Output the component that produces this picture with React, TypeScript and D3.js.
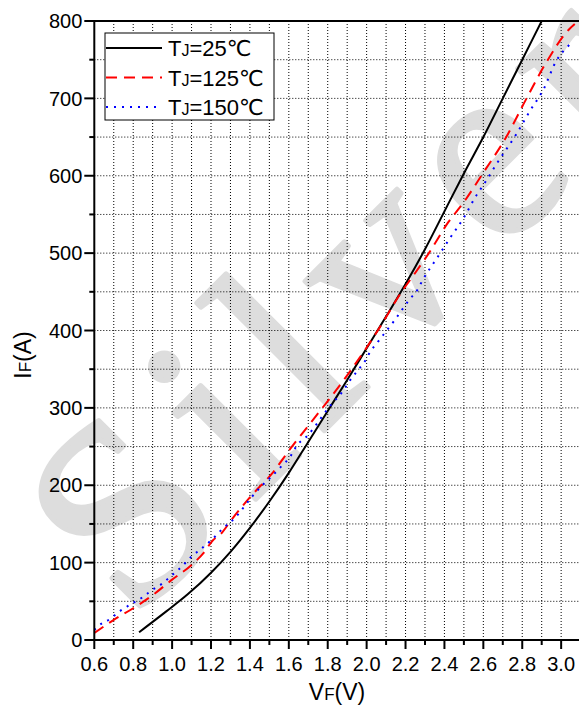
import React from "react";
import * as d3 from "d3";

const seriesNames = ["25", "125", "150"];
const colors = ["#000000", "#ff0000", "#0000ff"];

const tj25: [number, number][] = [
  [0.83, 10], [0.97, 37], [1.08, 59], [1.2, 87], [1.3, 114], [1.4, 145], [1.5, 179],
  [1.6, 216], [1.7, 256], [1.8, 296], [1.9, 336], [2.0, 377], [2.1, 418], [2.2, 460],
  [2.3, 505], [2.4, 554], [2.5, 603], [2.6, 650], [2.7, 700], [2.8, 750], [2.9, 800],
];

const tj125: [number, number][] = [
  [0.6, 9], [0.7, 26], [0.8, 41], [0.9, 58], [1.0, 78], [1.1, 97], [1.16, 112], [1.21, 129],
  [1.25, 137], [1.31, 157], [1.42, 190], [1.51, 214], [1.61, 248], [1.71, 280], [1.81, 312],
  [1.9, 342], [2.0, 378], [2.07, 405], [2.18, 450], [2.24, 471], [2.32, 500], [2.42, 540],
  [2.5, 566], [2.6, 604], [2.72, 651], [2.82, 699], [2.92, 745], [3.04, 789], [3.07, 796],
];

const tj150: [number, number][] = [
  [0.6, 13], [0.62, 18], [0.68, 27], [0.73, 37], [0.78, 45], [0.84, 54], [0.9, 65], [0.95, 73],
  [1.0, 84], [1.05, 95], [1.1, 108], [1.15, 118], [1.21, 131], [1.26, 144], [1.32, 157],
  [1.41, 185], [1.46, 199], [1.51, 211], [1.56, 224], [1.61, 238], [1.64, 251], [1.7, 265],
  [1.74, 278], [1.78, 292], [1.82, 305], [1.87, 319], [1.91, 334], [1.95, 347], [1.99, 360],
  [2.02, 373], [2.06, 386], [2.1, 399], [2.14, 412], [2.22, 440], [2.26, 452], [2.29, 466],
  [2.36, 493], [2.43, 520], [2.5, 546], [2.56, 573], [2.6, 588], [2.67, 616], [2.77, 654],
  [2.84, 684], [2.91, 712], [2.97, 746], [3.06, 773],
];

const xMajorTicks = [0.6, 0.8, 1.0, 1.2, 1.4, 1.6, 1.8, 2.0, 2.2, 2.4, 2.6, 2.8, 3.0];
const xMinorTicks = [0.7, 0.9, 1.1, 1.3, 1.5, 1.7, 1.9, 2.1, 2.3, 2.5, 2.7, 2.9, 3.1];
const yMajorTicks = [0, 100, 200, 300, 400, 500, 600, 700, 800];
const yMinorTicks = [50, 150, 250, 350, 450, 550, 650, 750];

const W = 579;
const H = 707;
const L = 94.3;
const R = 580.6;
const T = 21;
const B = 640;

const sans = "'Liberation Sans', Arial, 'DejaVu Sans', sans-serif";

export default function App() {
  const x = d3.scaleLinear().domain([0.6, 3.1]).range([L, R]);
  const y = d3.scaleLinear().domain([0, 800]).range([B, T]);
  const line = d3.line<[number, number]>().x((d) => x(d[0])).y((d) => y(d[1])).curve(d3.curveMonotoneX);
  const series = [tj25, tj125, tj150];
  const dashes = [undefined, "11 7", "2 6"];
  const gridX = [...xMajorTicks, ...xMinorTicks].filter((v) => v > 0.6 && v < 3.1);
  const gridY = [...yMajorTicks, ...yMinorTicks].filter((v) => v > 0 && v < 800);
  const fmtX = d3.format(".1f");

  return (
    <div style={{ position: "absolute", left: 0, top: 0 }}>
      <svg width={W} height={H} style={{ display: "block", background: "#fff" }}>
        <defs>
          <clipPath id="plot">
            <rect x={L} y={T} width={R - L} height={B - T} />
          </clipPath>
        </defs>
        <rect x={0} y={0} width={W} height={H} fill="#fff" />
        {/* watermark */}
        <text
          transform="translate(132,623) rotate(-45)"
          fontFamily="'Liberation Serif', 'Times New Roman', serif"
          fontSize={260}
          letterSpacing={25}
          fill="#dddddd"
          stroke="#dddddd"
          strokeWidth={5}
          strokeLinejoin="round"
        >
          Silver
        </text>
        {/* grid */}
        {gridX.map((v) => (
          <line key={"gx" + v} x1={x(v)} x2={x(v)} y1={T} y2={B} stroke="#000" strokeWidth={1} strokeDasharray="1 2" />
        ))}
        {gridY.map((v) => (
          <line key={"gy" + v} x1={L} x2={R} y1={y(v)} y2={y(v)} stroke="#000" strokeWidth={1} strokeDasharray="1 2" />
        ))}
        {/* curves */}
        <g clipPath="url(#plot)">
          {series.map((s, i) => (
            <path
              key={i}
              d={line(s) || ""}
              fill="none"
              stroke={colors[i]}
              strokeWidth={2}
              strokeDasharray={dashes[i]}
            />
          ))}
        </g>
        {/* axes */}
        <line x1={L} x2={L} y1={T - 1} y2={B + 1} stroke="#000" strokeWidth={2} />
        <line x1={L - 1} x2={R} y1={B} y2={B} stroke="#000" strokeWidth={2} />
        <line x1={L - 1} x2={R} y1={T} y2={T} stroke="#000" strokeWidth={2} />
        {yMajorTicks.map((v) => (
          <g key={"ym" + v}>
            <line x1={L - 10} x2={L} y1={y(v)} y2={y(v)} stroke="#000" strokeWidth={2} />
            <text x={L - 12} y={y(v)} dy="0.36em" textAnchor="end" fontFamily={sans} fontSize={20} fill="#000">
              {v}
            </text>
          </g>
        ))}
        {yMinorTicks.map((v) => (
          <line key={"yn" + v} x1={L - 5} x2={L} y1={y(v)} y2={y(v)} stroke="#000" strokeWidth={2} />
        ))}
        {xMajorTicks.map((v) => (
          <g key={"xm" + v}>
            <line x1={x(v)} x2={x(v)} y1={B} y2={B + 9} stroke="#000" strokeWidth={2} />
            <text x={x(v)} y={671} textAnchor="middle" fontFamily={sans} fontSize={20} fill="#000">
              {fmtX(v)}
            </text>
          </g>
        ))}
        {xMinorTicks.map((v) => (
          <line key={"xn" + v} x1={x(v)} x2={x(v)} y1={B} y2={B + 5} stroke="#000" strokeWidth={2} />
        ))}
        {/* axis titles */}
        <text x={337} y={700} textAnchor="middle" fontFamily={sans} fontSize={23} fill="#000">
          V<tspan fontSize={17}>F</tspan>(V)
        </text>
        <text transform="translate(31,355) rotate(-90)" textAnchor="middle" fontFamily={sans} fontSize={23} fill="#000">
          I<tspan fontSize={17}>F</tspan>(A)
        </text>
        {/* legend */}
        <rect x={105} y={33} width={169} height={87} fill="#fff" stroke="#000" strokeWidth={1} />
        {seriesNames.map((n, i) => {
          const ly = 48 + i * 29.5;
          return (
            <g key={"lg" + n}>
              <line x1={106} x2={162} y1={ly} y2={ly} stroke={colors[i]} strokeWidth={2} strokeDasharray={dashes[i]} />
              <text x={168} y={ly + 8} fontFamily={sans} fontSize={22} fill="#000">
                T<tspan fontSize={16}>J</tspan>={n}℃
              </text>
            </g>
          );
        })}
      </svg>
    </div>
  );
}
